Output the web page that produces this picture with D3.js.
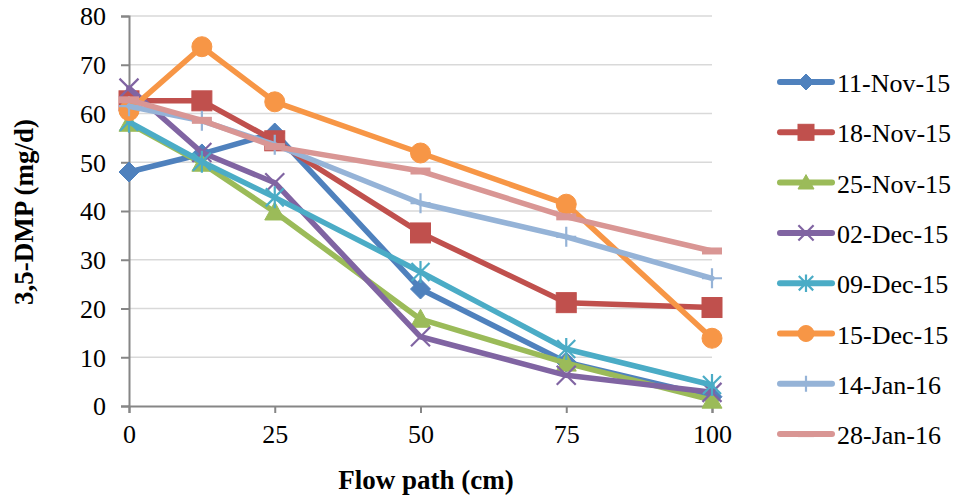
<!DOCTYPE html>
<html>
<head>
<meta charset="utf-8">
<script src="https://cdn.jsdelivr.net/npm/d3@7"></script>
<style>
  html, body { margin: 0; padding: 0; background: #fff; }
  svg { display: block; }
  text { font-family: "Liberation Serif", "Times New Roman", Times, "DejaVu Serif", serif; fill: #000; }
</style>
</head>
<body>
<svg id="chart" width="956" height="499"></svg>
<script>
// Sampling positions along the flow path (cm)
const flowPath = [0, 12.5, 25, 50, 75, 100];

// 3,5-DMP load (mg/d) per sampling date
const nov11 = [48.0, 51.7, 56.0, 24.0, 9.0, 1.9];
const nov18 = [62.6, 62.6, 54.4, 35.5, 21.2, 20.2];
const nov25 = [58.0, 49.8, 39.8, 17.8, 8.8, 1.2];
const dec02 = [65.2, 52.0, 45.8, 14.2, 6.3, 2.8];
const dec09 = [58.3, 50.1, 42.8, 27.5, 11.7, 4.3];
const dec15 = [60.6, 73.7, 62.4, 51.9, 41.4, 13.9];
const jan14 = [61.5, 58.5, 53.6, 41.6, 34.7, 26.2];
const jan28 = [62.8, 58.6, 53.2, 48.2, 38.8, 31.8];

const seriesNames = ["11-Nov-15", "18-Nov-15", "25-Nov-15", "02-Dec-15",
                     "09-Dec-15", "15-Dec-15", "14-Jan-16", "28-Jan-16"];
const seriesValues = [nov11, nov18, nov25, dec02, dec09, dec15, jan14, jan28];

const xTicks = [0, 25, 50, 75, 100];
const yTicks = [0, 10, 20, 30, 40, 50, 60, 70, 80];

const colors = ["#4F81BD", "#C0504D", "#9BBB59", "#8064A2",
                "#4BACC6", "#F79646", "#95B3D7", "#D99694"];
const markers = ["diamond", "square", "triangle", "x", "star", "circle", "plus", "dash"];

const serif = "'Liberation Serif', 'Times New Roman', Times, 'DejaVu Serif', serif";

const svg = d3.select("#chart");
const x = d3.scaleLinear().domain([0, 100]).range([129, 712]);
const y = d3.scaleLinear().domain([0, 80]).range([406, 16]);

// Horizontal gridlines
svg.append("g")
  .selectAll("line")
  .data(yTicks.filter(t => t > 0))
  .join("line")
  .attr("x1", x(0)).attr("x2", x(100))
  .attr("y1", d => y(d)).attr("y2", d => y(d))
  .attr("stroke", "#D9D9D9").attr("stroke-width", 1.5);

// Y axis
const yAxis = svg.append("g")
  .attr("transform", `translate(${x(0)},0)`)
  .call(d3.axisLeft(y).tickValues(yTicks).tickSize(8).tickPadding(15).tickFormat(d3.format("d")));
yAxis.attr("font-family", serif);
yAxis.select(".domain").attr("stroke", "#868686").attr("stroke-width", 2);
yAxis.selectAll(".tick line").attr("stroke", "#868686").attr("stroke-width", 2);
yAxis.selectAll(".tick text")
  .attr("font-size", 26)
  .attr("font-family", serif)
  .attr("fill", "#000")
  .attr("dy", "0.34em");

// X axis
const xAxis = svg.append("g")
  .attr("transform", `translate(0,${y(0)})`)
  .call(d3.axisBottom(x).tickValues(xTicks).tickSize(7).tickPadding(12).tickFormat(d3.format("d")));
xAxis.attr("font-family", serif);
xAxis.select(".domain").attr("stroke", "#868686").attr("stroke-width", 2);
xAxis.selectAll(".tick line").attr("stroke", "#868686").attr("stroke-width", 2);
xAxis.selectAll(".tick text")
  .attr("font-size", 26)
  .attr("font-family", serif)
  .attr("fill", "#000");

// Axis titles
svg.append("text")
  .attr("x", 426).attr("y", 489)
  .attr("text-anchor", "middle")
  .attr("font-size", 27).attr("font-weight", "bold")
  .text("Flow path (cm)");

svg.append("text")
  .attr("transform", "translate(33,212) rotate(-90)")
  .attr("text-anchor", "middle")
  .attr("font-size", 27).attr("font-weight", "bold")
  .text("3,5-DMP (mg/d)");

// Marker drawing
function drawMarker(g, type, color, s, dashH) {
  const r = 10 * s;
  switch (type) {
    case "diamond":
      g.append("path").attr("d", `M0,${-r}L${r},0L0,${r}L${-r},0Z`)
        .attr("fill", color).attr("stroke", color).attr("stroke-width", 1);
      break;
    case "square":
      g.append("rect").attr("x", -r).attr("y", -r).attr("width", 2 * r).attr("height", 2 * r)
        .attr("fill", color).attr("stroke", color).attr("stroke-width", 1);
      break;
    case "triangle":
      g.append("path").attr("d", `M0,${-r}L${r},${r * 0.8}L${-r},${r * 0.8}Z`)
        .attr("fill", color).attr("stroke", color).attr("stroke-width", 1);
      break;
    case "circle":
      g.append("circle").attr("r", r)
        .attr("fill", color).attr("stroke", color).attr("stroke-width", 1);
      break;
    case "x": {
      const h = r * 0.95;
      g.append("path").attr("d", `M${-h},${-h}L${h},${h}M${-h},${h}L${h},${-h}`)
        .attr("fill", "none").attr("stroke", color).attr("stroke-width", 2.2);
      break;
    }
    case "star": {
      const h = r * 0.9;
      g.append("path").attr("d", `M${-h},${-h}L${h},${h}M${-h},${h}L${h},${-h}M0,${-r * 1.1}L0,${r * 1.1}`)
        .attr("fill", "none").attr("stroke", color).attr("stroke-width", 2.2);
      break;
    }
    case "plus":
      g.append("path").attr("d", `M${-r},0L${r},0M0,${-r}L0,${r}`)
        .attr("fill", "none").attr("stroke", color).attr("stroke-width", 2.2);
      break;
    case "dash":
      g.append("rect").attr("x", -r).attr("y", -dashH / 2).attr("width", 2 * r).attr("height", dashH)
        .attr("fill", color);
      break;
  }
}

const line = d3.line().x(d => x(d[0])).y(d => y(d[1]));

// Series lines and markers
const plot = svg.append("g");
seriesValues.forEach((vals, i) => {
  const pts = flowPath.map((fp, j) => [fp, vals[j]]);
  const g = plot.append("g");
  g.append("path")
    .datum(pts)
    .attr("d", line)
    .attr("fill", "none")
    .attr("stroke", colors[i])
    .attr("stroke-width", 5.5)
    .attr("stroke-linejoin", "round")
    .attr("stroke-linecap", "round");
  pts.forEach(p => {
    const m = g.append("g").attr("transform", `translate(${x(p[0])},${y(p[1])})`);
    drawMarker(m, markers[i], colors[i], 1, 7);
  });
});

// Legend
const legend = svg.append("g");
seriesNames.forEach((name, i) => {
  const cy = 83 + i * 50.3;
  const g = legend.append("g").attr("transform", `translate(0,${cy})`);
  g.append("line")
    .attr("x1", 780).attr("x2", 832).attr("y1", -1).attr("y2", -1)
    .attr("stroke", colors[i]).attr("stroke-width", 6).attr("stroke-linecap", "round");
  const m = g.append("g").attr("transform", "translate(806,-1)");
  drawMarker(m, markers[i], colors[i], 0.8, 6);
  g.append("text")
    .attr("x", 837).attr("y", 9)
    .attr("font-size", 26)
    .attr("font-family", serif)
    .text(name);
});
</script>
</body>
</html>
